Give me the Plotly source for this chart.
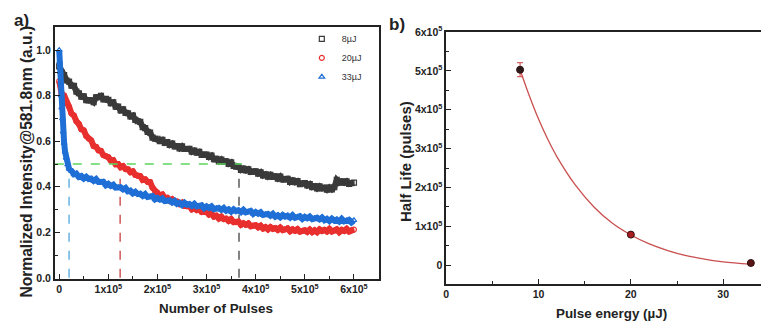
import plotly.graph_objects as go

FONT = "Arial, Liberation Sans, sans-serif"

# ---------------- panel a) data ----------------
pulses = list(range(0, 600001, 5000))

intensity_8uJ = [
    0.929, 0.902, 0.891, 0.867, 0.862, 0.844, 0.843, 0.818, 0.811, 0.796,
    0.797, 0.781, 0.780, 0.780, 0.772, 0.793, 0.794, 0.799, 0.784, 0.786,
    0.782, 0.767, 0.771, 0.752, 0.752, 0.736, 0.740, 0.725, 0.723, 0.709,
    0.713, 0.694, 0.688, 0.685, 0.662, 0.658, 0.641, 0.638, 0.616, 0.611,
    0.611, 0.601, 0.606, 0.593, 0.596, 0.584, 0.590, 0.578, 0.579, 0.569,
    0.578, 0.566, 0.566, 0.567, 0.554, 0.559, 0.550, 0.554, 0.540, 0.541,
    0.541, 0.531, 0.537, 0.521, 0.523, 0.512, 0.520, 0.510, 0.512, 0.501,
    0.507, 0.492, 0.489, 0.488, 0.474, 0.480, 0.472, 0.477, 0.465, 0.467,
    0.468, 0.458, 0.464, 0.450, 0.455, 0.445, 0.453, 0.444, 0.446, 0.436,
    0.445, 0.432, 0.433, 0.435, 0.421, 0.428, 0.420, 0.425, 0.412, 0.415,
    0.416, 0.406, 0.412, 0.399, 0.403, 0.393, 0.402, 0.393, 0.396, 0.387,
    0.397, 0.389, 0.398, 0.430, 0.418, 0.424, 0.418, 0.424, 0.413, 0.416,
    0.418,
]

intensity_20uJ = [
    0.864, 0.809, 0.801, 0.767, 0.752, 0.722, 0.713, 0.688, 0.676, 0.653,
    0.648, 0.623, 0.612, 0.604, 0.579, 0.576, 0.560, 0.558, 0.539, 0.535,
    0.530, 0.515, 0.517, 0.499, 0.500, 0.486, 0.491, 0.478, 0.477, 0.464,
    0.468, 0.452, 0.448, 0.447, 0.430, 0.433, 0.422, 0.421, 0.396, 0.381,
    0.374, 0.361, 0.366, 0.350, 0.352, 0.339, 0.345, 0.334, 0.335, 0.324,
    0.330, 0.316, 0.315, 0.316, 0.301, 0.306, 0.298, 0.303, 0.289, 0.290,
    0.289, 0.278, 0.284, 0.269, 0.273, 0.261, 0.269, 0.258, 0.260, 0.250,
    0.258, 0.245, 0.245, 0.247, 0.233, 0.240, 0.233, 0.239, 0.227, 0.230,
    0.231, 0.222, 0.229, 0.217, 0.223, 0.213, 0.223, 0.215, 0.219, 0.211,
    0.221, 0.210, 0.213, 0.217, 0.205, 0.213, 0.207, 0.214, 0.203, 0.207,
    0.209, 0.202, 0.212, 0.201, 0.209, 0.201, 0.213, 0.206, 0.211, 0.204,
    0.215, 0.204, 0.208, 0.213, 0.201, 0.211, 0.206, 0.215, 0.204, 0.209,
    0.212,
]

pulses_33uJ = [0, 1000, 2000, 3000, 4000, 5000, 6500, 8000, 10000, 12000,
               14000, 17000, 20000] + list(range(25000, 600001, 5000))

intensity_33uJ = [
    1.000, 0.950, 0.905, 0.858, 0.802, 0.748, 0.700, 0.642, 0.592, 0.553,
    0.527, 0.498, 0.480,
    0.470, 0.455, 0.458, 0.443, 0.447, 0.436, 0.444, 0.434, 0.436, 0.426,
    0.434, 0.421, 0.421, 0.422, 0.407, 0.413, 0.404, 0.409, 0.396, 0.398,
    0.398, 0.389, 0.395, 0.380, 0.383, 0.371, 0.378, 0.368, 0.370, 0.360,
    0.368, 0.355, 0.356, 0.359, 0.345, 0.351, 0.344, 0.349, 0.337, 0.340,
    0.340, 0.331, 0.338, 0.325, 0.330, 0.320, 0.330, 0.321, 0.324, 0.316,
    0.325, 0.314, 0.315, 0.319, 0.306, 0.314, 0.307, 0.314, 0.302, 0.306,
    0.307, 0.299, 0.307, 0.295, 0.301, 0.291, 0.301, 0.293, 0.297, 0.289,
    0.299, 0.288, 0.290, 0.294, 0.281, 0.289, 0.282, 0.288, 0.276, 0.279,
    0.281, 0.273, 0.281, 0.269, 0.275, 0.266, 0.276, 0.269, 0.273, 0.265,
    0.275, 0.264, 0.267, 0.271, 0.259, 0.268, 0.262, 0.269, 0.258, 0.262,
    0.264, 0.257, 0.265, 0.253, 0.259, 0.250, 0.260, 0.252, 0.256, 0.248,
    0.259, 0.248, 0.251, 0.255, 0.244, 0.253,
]

half_level = 0.5
half_life_pulses = [20000, 124000, 366000]          # 33, 20, 8 uJ
half_line_span = [-9000, 372000]

x_ticks_a = [0, 100000, 200000, 300000, 400000, 500000, 600000]
x_text_a = ["0"] + ["%dx10<sup>5</sup>" % i for i in range(1, 7)]
y_ticks_a = [0.0, 0.2, 0.4, 0.6, 0.8, 1.0]
y_text_a = ["0.0", "0.2", "0.4", "0.6", "0.8", "1.0"]

# ---------------- panel b) data ----------------
pulse_energy = [8, 20, 33]
half_life = [503000, 79000, 6000]
half_life_err = [18000, 0, 0]

fit_energy = [8, 9, 10, 11, 12, 14, 16, 18, 20, 22, 24, 26, 28, 30, 33]
fit_half_life = [503000, 436000, 376000, 324000, 279000, 206000, 150000,
                 108000, 78000, 55000, 38000, 25000, 16000, 9000, 3000]

x_ticks_b = [0, 10, 20, 30]
y_ticks_b = [0, 100000, 200000, 300000, 400000, 500000, 600000]
y_text_b = ["0"] + ["%dx10<sup>5</sup>" % i for i in range(1, 7)]

# ---------------- figure ----------------
W, H = 761, 327
fig = go.Figure()

# reference dashed lines
dash_colors = ["#4ea6dc", "#c83c3c", "#404040"]
for hl, c in zip(half_life_pulses, dash_colors):
    fig.add_trace(go.Scatter(x=[hl, hl], y=[0, half_level], mode="lines",
                             line=dict(color=c, width=1.3, dash="dash"),
                             showlegend=False, hoverinfo="skip",
                             xaxis="x", yaxis="y"))

series = [
    ("8µJ", pulses, intensity_8uJ, "square-open", "#3a3a3a"),
    ("20µJ", pulses, intensity_20uJ, "circle-open", "#e8302f"),
    ("33µJ", pulses_33uJ, intensity_33uJ, "triangle-up-open", "#1f6fd6"),
]
for name, xs, ys, sym, col in series:
    # dense noisy band
    fig.add_trace(go.Scatter(x=xs, y=ys, mode="lines", showlegend=False,
                             line=dict(color=col, width=6), hoverinfo="skip",
                             xaxis="x", yaxis="y"))
    fig.add_trace(go.Scatter(x=xs, y=ys, mode="markers", name=name,
                             marker=dict(symbol=sym, size=5, color=col,
                                         line=dict(width=1.2)),
                             xaxis="x", yaxis="y"))

fig.add_trace(go.Scatter(x=half_line_span, y=[half_level, half_level], mode="lines",
                         line=dict(color="#5cd65c", width=1.5, dash="dash"),
                         showlegend=False, hoverinfo="skip",
                         xaxis="x", yaxis="y"))

# panel b
fig.add_trace(go.Scatter(x=fit_energy, y=fit_half_life, mode="lines",
                         line=dict(color="#c9504f", width=1.3, shape="spline"),
                         showlegend=False, xaxis="x2", yaxis="y2"))
fig.add_trace(go.Scatter(x=pulse_energy, y=half_life, mode="markers",
                         marker=dict(size=7, color=["#2a1a1a", "#a81c22", "#5a1616"],
                                     line=dict(color="#301010", width=1)),
                         error_y=dict(type="data", array=half_life_err, color="#d04040",
                                      thickness=1, width=3),
                         showlegend=False, xaxis="x2", yaxis="y2"))

tickfont = dict(family=FONT, size=10.5, color="#222", weight="bold")
axis_common = dict(showline=True, linewidth=1.5, linecolor="#222", showgrid=False,
                   zeroline=False, ticks="inside", ticklen=5, tickwidth=1.3,
                   tickcolor="#222", tickfont=tickfont, tickmode="array")

fig.update_layout(
    width=W, height=H,
    margin=dict(l=0, r=0, t=0, b=0),
    paper_bgcolor="white", plot_bgcolor="white",
    xaxis=dict(axis_common, domain=[52 / W, 377 / W], range=[-9000, 650000],
               tickvals=x_ticks_a, ticktext=x_text_a, mirror=True, anchor="y",
               minor=dict(tickvals=[50000, 150000, 250000, 350000, 450000, 550000],
                          ticks="inside", ticklen=3, tickcolor="#222")),
    yaxis=dict(axis_common, domain=[1 - 282 / H, 1 - 20 / H], range=[-0.004, 1.101],
               tickvals=y_ticks_a, ticktext=y_text_a, mirror=True, anchor="x",
               minor=dict(tickvals=[0.1, 0.3, 0.5, 0.7, 0.9],
                          ticks="inside", ticklen=3, tickcolor="#222")),
    xaxis2=dict(axis_common, domain=[445 / W, 1.0], range=[0, 34.1],
                tickvals=x_ticks_b, ticktext=[str(v) for v in x_ticks_b],
                mirror=True, anchor="y2",
                minor=dict(tickvals=[5, 15, 25], ticks="inside", ticklen=3,
                           tickcolor="#222")),
    yaxis2=dict(axis_common, domain=[1 - 287 / H, 1 - 25 / H], range=[-47000, 600000],
                tickvals=y_ticks_b, ticktext=y_text_b, mirror=False, anchor="x2",
                minor=dict(tickvals=[50000, 150000, 250000, 350000, 450000, 550000],
                           ticks="inside", ticklen=3, tickcolor="#222")),
    legend=dict(x=300 / W, y=1 - 17 / H, xanchor="left", yanchor="top",
                bgcolor="rgba(0,0,0,0)", font=dict(family=FONT, size=9, color="#333"),
                itemwidth=30, tracegroupgap=0),
    showlegend=True,
)

def ann(text, x, y, size, angle=0):
    fig.add_annotation(text=text, x=x / W, y=1 - y / H, xref="paper", yref="paper",
                       showarrow=False, textangle=angle, xanchor="center",
                       yanchor="middle",
                       font=dict(family=FONT, size=size, color="#222", weight="bold"))

ann("a)", 19, 13, 17)
ann("b)", 396, 17, 17)
ann("Normalized Intensity@581.8nm (a.u.)", 24, 160, 15.6, -90)
ann("Number of Pulses", 214, 313, 13.4)
ann("Half Life (pulses)", 404, 160, 15, -90)
ann("Pulse energy (µJ)", 611, 318, 13.4)

fig.write_html("out.html",
               config={"displayModeBar": False},
               post_script="document.body.style.margin='0';"
                           "document.body.style.overflow='hidden';")
